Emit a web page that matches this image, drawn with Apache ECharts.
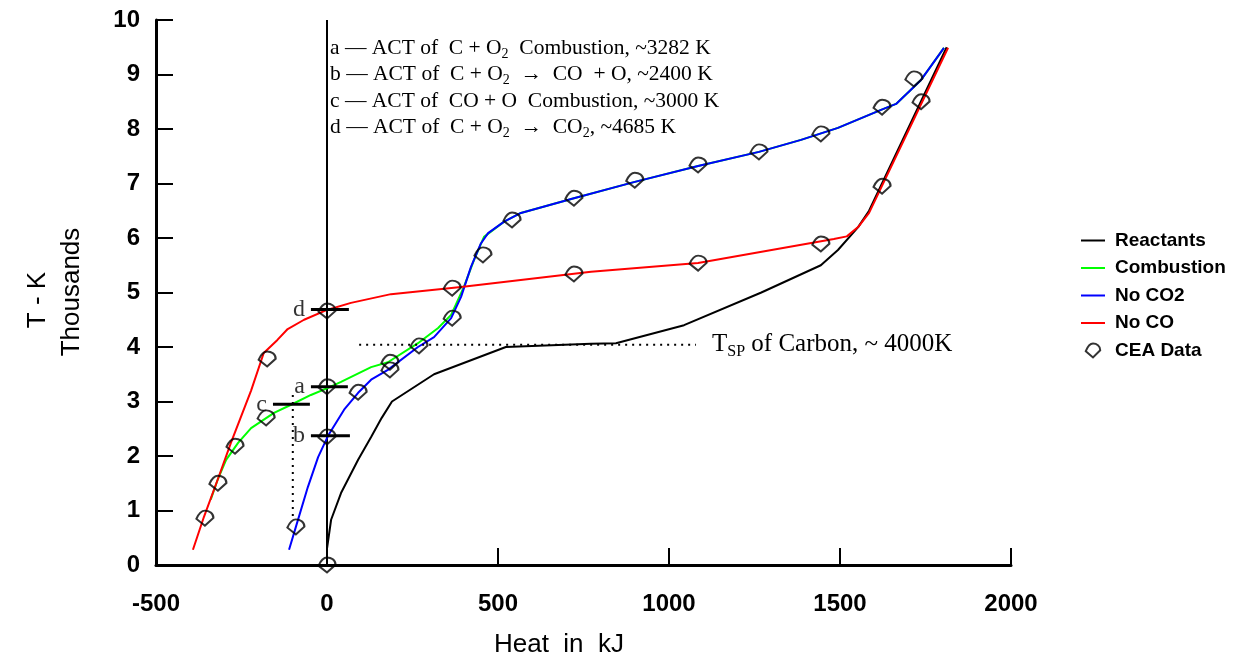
<!DOCTYPE html>
<html>
<head>
<meta charset="utf-8">
<title>T vs Heat</title>
<script src="https://cdn.jsdelivr.net/npm/echarts@6/dist/echarts.min.js"></script>
<style>
  html, body { margin: 0; padding: 0; background: #fff; }
  #chart { width: 1238px; height: 660px; }
</style>
</head>
<body>
<div id="chart"></div>
<script>
// x = heat in kJ, y = T in thousands of K
const xTicks = { min: -500, max: 2000, step: 500 }
const yTicks = { min: 0, max: 10, step: 1 }

const reactants = [[0, 0.3], [12, 0.83], [41, 1.32], [91, 1.93], [129, 2.35], [160, 2.7], [190, 3.0],
  [313, 3.5], [523, 4.0], [772, 4.06], [845, 4.07], [1044, 4.4], [1270, 5.0], [1444, 5.5],
  [1494, 5.78], [1553, 6.2], [1585, 6.5], [1812, 9.5]]

const combustion = [[-340, 1.2], [-320, 1.56], [-295, 1.93], [-260, 2.24], [-222, 2.51], [-155, 2.79],
  [-105, 2.94], [-47, 3.12], [3, 3.25], [41, 3.36], [129, 3.63], [178, 3.72], [266, 4.07],
  [325, 4.35], [363, 4.59], [400, 5.1], [430, 5.6], [459, 6.02], [518, 6.3], [567, 6.46],
  [722, 6.73], [900, 7.03], [1085, 7.32], [1263, 7.58], [1386, 7.8], [1494, 8.02], [1620, 8.35],
  [1664, 8.46], [1737, 8.9], [1804, 9.49]]

const noCO2 = [[-111, 0.28], [-91, 0.7], [-56, 1.43], [-26, 1.98], [3, 2.37], [50, 2.85], [91, 3.16],
  [129, 3.4], [178, 3.58], [266, 4.0], [313, 4.18], [363, 4.53], [392, 4.92], [421, 5.47],
  [450, 5.9], [471, 6.09], [518, 6.3], [567, 6.46], [722, 6.73], [900, 7.03], [1085, 7.32],
  [1263, 7.58], [1386, 7.8], [1494, 8.02], [1620, 8.35], [1664, 8.46], [1737, 8.9], [1804, 9.49]]

const noCO = [[-392, 0.28], [-360, 0.88], [-320, 1.56], [-281, 2.24], [-222, 3.2], [-185, 3.89],
  [-145, 4.13], [-115, 4.33], [-67, 4.5], [0, 4.68], [70, 4.81], [187, 4.97], [392, 5.1],
  [772, 5.38], [1085, 5.54], [1300, 5.78], [1482, 5.98], [1520, 6.03], [1553, 6.2], [1585, 6.46],
  [1816, 9.49]]

const ceaData = [[0, 0], [-357, 0.86], [-319, 1.5], [-269, 2.18], [-175, 3.78], [-178, 2.7], [-91, 0.7],
  [0, 4.66], [0, 3.27], [0, 2.35], [91, 3.17], [184, 3.72], [184, 3.58], [269, 4.02], [366, 4.53],
  [366, 5.08], [456, 5.69], [541, 6.33], [722, 6.73], [722, 5.34], [900, 7.06], [1085, 7.34],
  [1085, 5.54], [1263, 7.58], [1444, 7.91], [1444, 5.89], [1623, 8.4], [1623, 6.95], [1716, 8.92],
  [1737, 8.5]]

// ACT markers a..d: [xStart, xEnd, y]
const actLetters = ['a', 'b', 'c', 'd']
const actBars = [[-47, 61, 3.27], [-47, 67, 2.37], [-158, -50, 2.95], [-47, 64, 4.69]]
const cDrop = [[-100, 3.12], [-100, 0.83]]
const tspLine = [[94, 4.04], [1079, 4.04]]
const zeroLine = [[0, 0], [0, 10]]

const actNotes = [
  'a — ACT of  C + O{s|2}  Combustion, ~3282 K',
  'b — ACT of  C + O{s|2}  →  CO  + O, ~2400 K',
  'c — ACT of  CO + O  Combustion, ~3000 K',
  'd — ACT of  C + O{s|2}  →  CO{s|2}, ~4685 K'
]

const legendNames = ['Reactants', 'Combustion', 'No CO2', 'No CO', 'CEA Data']

const sans = 'Liberation Sans, Arial, sans-serif'
const serif = 'Liberation Serif, Times New Roman, serif'
const ceaSymbol = 'path://M0,9 L8,16 L16,8 C16,3 12,0.5 8,0.5 C5,0.5 2,4 0,9 Z'
const lineIcon = 'path://M0,0 L24,0 L24,2 L0,2 Z'

function lineSeries(name, data, color) {
  return {
    name: name,
    type: 'line',
    data: data,
    symbol: 'none',
    color: color,
    lineStyle: { color: color, width: 2 },
    silent: true
  }
}

function plainLine(data, width, type) {
  return {
    type: 'line',
    data: data,
    symbol: 'none',
    lineStyle: { color: '#000', width: width, type: type || 'solid' },
    silent: true,
    z: 3
  }
}

const series = [
  plainLine(zeroLine, 2),
  lineSeries('Reactants', reactants, '#000000'),
  lineSeries('Combustion', combustion, '#00ff00'),
  lineSeries('No CO2', noCO2, '#0000ff'),
  lineSeries('No CO', noCO, '#ff0000'),
  plainLine(cDrop, 2, [2, 5]),
  {
    type: 'line',
    data: tspLine,
    symbol: 'none',
    lineStyle: { color: '#000', width: 2, type: [2, 5] },
    silent: true,
    endLabel: {
      show: true,
      distance: 16,
      formatter: '{n|T}{s|SP}{n| of Carbon, ~ 4000K}',
      rich: {
        n: { fontFamily: serif, fontSize: 25, color: '#000', lineHeight: 30 },
        s: { fontFamily: serif, fontSize: 16, color: '#000', lineHeight: 17, verticalAlign: 'bottom' }
      }
    }
  }
]

actBars.forEach((b) => {
  const s = plainLine([[b[0], b[2]], [b[1], b[2]]], 3)
  s.z = 4
  series.push(s)
})

series.push({
  type: 'scatter',
  data: actBars.map((b, i) => [b[0], b[2], actLetters[i]]),
  symbolSize: 0,
  silent: true,
  label: {
    show: true,
    position: 'left',
    distance: 6,
    formatter: (p) => p.value[2],
    fontFamily: serif,
    fontSize: 24,
    color: '#000'
  }
})

series.push({
  name: 'CEA Data',
  type: 'scatter',
  data: ceaData,
  symbol: ceaSymbol,
  symbolSize: [17, 15],
  itemStyle: { color: 'rgba(255,255,255,0)', borderColor: '#000', borderWidth: 2 },
  z: 5
})

const graphic = actNotes.map((t, i) => ({
  type: 'text',
  x: 330,
  y: 48 + i * 26.5,
  silent: true,
  style: {
    text: t,
    fontFamily: serif,
    fontSize: 21.5,
    lineHeight: 26,
    fill: '#000',
    verticalAlign: 'middle',
    rich: {
      s: { fontFamily: serif, fontSize: 14, lineHeight: 14, verticalAlign: 'bottom', fill: '#000' }
    }
  }
}))

graphic.push(
  {
    type: 'text', x: 559, y: 645, silent: true,
    style: { text: 'Heat  in  kJ', fontFamily: sans, fontSize: 26, fill: '#000', align: 'center', verticalAlign: 'middle' }
  },
  {
    type: 'text', x: 38, y: 300, rotation: Math.PI / 2, silent: true,
    style: { text: 'T - K', fontFamily: sans, fontSize: 26, fill: '#000', align: 'center', verticalAlign: 'middle' }
  },
  {
    type: 'text', x: 72, y: 292, rotation: Math.PI / 2, silent: true,
    style: { text: 'Thousands', fontFamily: sans, fontSize: 26, fill: '#000', align: 'center', verticalAlign: 'middle' }
  }
)

const axisCommon = {
  type: 'value',
  splitLine: { show: false },
  axisLine: { onZero: false, lineStyle: { color: '#000', width: 3 } },
  axisTick: { inside: true, length: 17, lineStyle: { color: '#000', width: 2 } },
  axisLabel: { fontFamily: sans, fontWeight: 'bold', fontSize: 24, color: '#000', formatter: (v) => String(v) }
}

const option = {
  animation: false,
  backgroundColor: '#fff',
  grid: { left: 156, right: 227, top: 20, bottom: 95 },
  xAxis: Object.assign({}, axisCommon, {
    min: xTicks.min, max: xTicks.max, interval: xTicks.step,
    axisLabel: Object.assign({}, axisCommon.axisLabel, { margin: 27 })
  }),
  yAxis: Object.assign({}, axisCommon, {
    min: yTicks.min, max: yTicks.max, interval: yTicks.step,
    axisLabel: Object.assign({}, axisCommon.axisLabel, { margin: 16 })
  }),
  legend: {
    orient: 'vertical',
    left: 1076,
    top: 226,
    itemGap: 8.5,
    itemWidth: 24,
    itemHeight: 14,
    selectedMode: false,
    data: legendNames.map((n) => ({ name: n, icon: n === 'CEA Data' ? ceaSymbol : lineIcon })),
    textStyle: { fontFamily: sans, fontWeight: 'bold', fontSize: 19, color: '#000', padding: [0, 0, 0, 5] }
  },
  graphic: graphic,
  series: series
}

const chart = echarts.init(document.getElementById('chart'))
chart.setOption(option)
window.addEventListener('resize', () => chart.resize())
</script>
</body>
</html>
